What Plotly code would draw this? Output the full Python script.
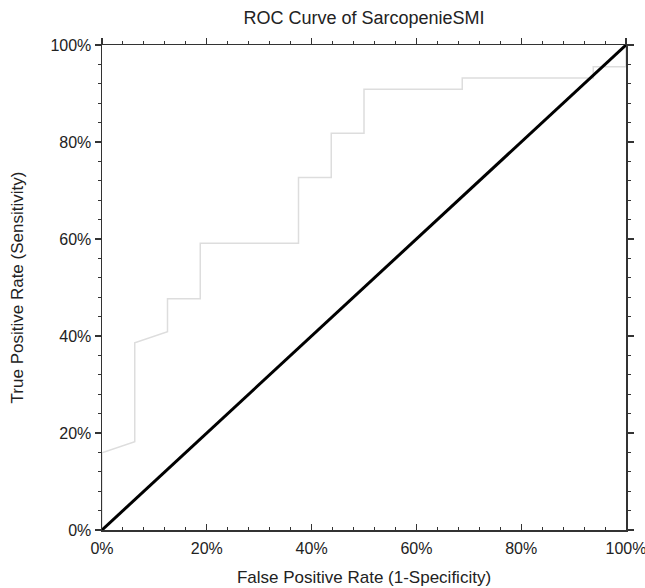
import plotly.graph_objects as go

# ROC curve data (fractions)
fpr = [0, 0, 0.0625, 0.0625, 0.125, 0.125, 0.1875, 0.1875, 0.375, 0.375,
       0.4375, 0.4375, 0.5, 0.5, 0.6875, 0.6875, 0.9375, 0.9375, 1.0, 1.0]
tpr = [0, 0.159, 0.182, 0.386, 0.409, 0.477, 0.477, 0.591, 0.591, 0.727,
       0.727, 0.818, 0.818, 0.909, 0.909, 0.932, 0.932, 0.955, 0.955, 1.0]
diag_x = [0, 1]
diag_y = [0, 1]
tick_vals = [0, 0.2, 0.4, 0.6, 0.8, 1.0]
tick_text = ["0%", "20%", "40%", "60%", "80%", "100%"]

title_text = "ROC Curve of SarcopenieSMI"
x_title = "False Positive Rate (1-Specificity)"
y_title = "True Positive Rate (Sensitivity)"

FONT = "Liberation Sans, Arial, sans-serif"
AXC = "#333333"

fig = go.Figure()
fig.add_trace(go.Scatter(x=fpr, y=tpr, mode="lines",
                         line=dict(color="#dddddd", width=1.5),
                         showlegend=False, hoverinfo="skip"))
fig.add_trace(go.Scatter(x=diag_x, y=diag_y, mode="lines",
                         line=dict(color="black", width=3),
                         showlegend=False, hoverinfo="skip"))
fig.add_trace(go.Scatter(x=[0], y=[0], xaxis="x2", yaxis="y2", mode="markers",
                         marker=dict(opacity=0), showlegend=False, hoverinfo="skip"))

minor = dict(dtick=0.04, tick0=0, ticklen=3, tickwidth=1, tickcolor=AXC, ticks="outside")
common = dict(range=[0, 1], showgrid=False, zeroline=False, showline=True, automargin=False,
              linecolor=AXC, linewidth=1.5, tickvals=tick_vals, ticktext=tick_text,
              ticklen=6, tickwidth=1.2, tickcolor=AXC, ticklabeloverflow="allow",
              tickfont=dict(family=FONT, size=16, color="#222"))
mirror = dict(range=[0, 1], showgrid=False, zeroline=False, automargin=False,
              showline=True, linecolor=AXC, linewidth=1.5, showticklabels=False,
              tickvals=tick_vals, ticks="outside", ticklen=6, tickwidth=1.2, tickcolor=AXC,
              minor=minor)

fig.update_layout(
    width=645, height=588,
    paper_bgcolor="white", plot_bgcolor="white",
    margin=dict(l=102, r=19, t=45, b=58),
    title=dict(text=title_text, x=0.5, xanchor="center", y=1 - 18 / 588, yanchor="middle",
               xref="paper", automargin=False,
               font=dict(family=FONT, size=18, color="#222")),
    xaxis=dict(**common, ticks="inside", ticklabelstandoff=3,
               minor=dict(dtick=0.04, tick0=0, ticklen=3, tickwidth=1, tickcolor=AXC, ticks="inside"),
               title=dict(text=x_title, font=dict(family=FONT, size=17, color="#222"), standoff=15)),
    yaxis=dict(**common, ticks="outside", minor=minor, ticklabelstandoff=0,
               title=dict(text=y_title, font=dict(family=FONT, size=17, color="#222"), standoff=22)),
    xaxis2=dict(**mirror, overlaying="x", side="top"),
    yaxis2=dict(**mirror, overlaying="y", side="right"),
)

fig.write_html("out.html",
               config={"displayModeBar": False, "staticPlot": True},
               post_script="document.body.style.margin='0';document.body.style.overflow='hidden';")
